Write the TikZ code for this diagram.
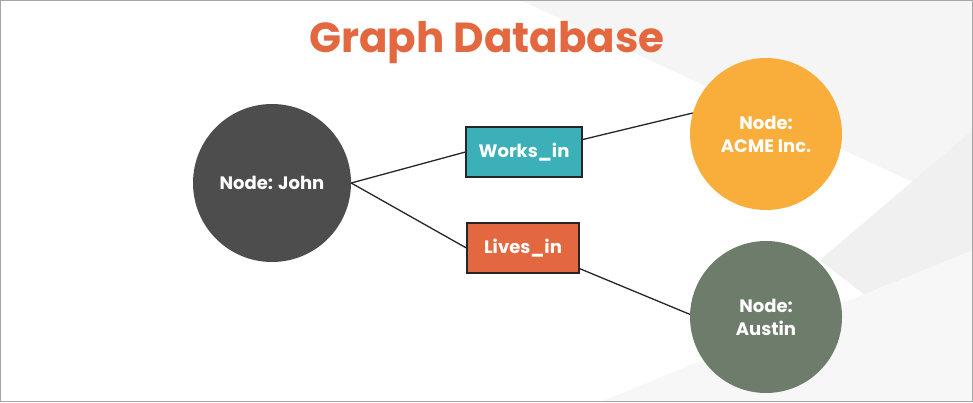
\documentclass[tikz,border=0pt]{standalone}
\usepackage{fontspec}
\setmainfont{Poppins}
\usepackage{tikz}
\definecolor{titleorange}{HTML}{E4683F}
\definecolor{johngray}{HTML}{4D4D4D}
\definecolor{acmeyellow}{HTML}{F9AE3C}
\definecolor{austingreen}{HTML}{6E7C6C}
\definecolor{worksteal}{HTML}{3BB0B8}
\tikzset{
  entity/.style={circle, minimum size=152pt, align=center, text=white, font=\bfseries\fontsize{18}{23}\selectfont},
  relation/.style={draw=black!85, line width=1.2pt, minimum height=50pt, text=white, font=\bfseries\fontsize{18}{21}\selectfont},
  link/.style={draw=black!85, line width=1.3pt}
}
\begin{document}
\begin{tikzpicture}[x=1pt, y=-1pt]

% background and frame
\fill[white] (0,0) rectangle (973,402);
\fill[black!4] (520,0) -- (973,0) -- (973,210) -- cycle;
\fill[black!6] (973,130) -- (820,260) -- (973,380) -- cycle;
\fill[black!3] (600,402) -- (973,250) -- (973,402) -- cycle;
\draw[black!35, line width=1pt] (0.5,0.5) rectangle (972.5,401.5);

% title
\node[text=titleorange, font=\bfseries\fontsize{42}{48}\selectfont] (title) at (487,43) {Graph Database};

% nodes
\node[entity, fill=johngray, minimum size=158pt] (john) at (272,183) {Node: John};
\node[entity, fill=acmeyellow] (acme) at (766,134) {Node:\\ACME Inc.};
\node[entity, fill=austingreen] (austin) at (766,317) {Node:\\Austin};

% relations
\node[relation, fill=worksteal, minimum width=116pt] (works) at (524,152) {Works\_in};
\node[relation, fill=titleorange, minimum width=112pt] (lives) at (523,248) {Lives\_in};

% edges
\draw[link] (john.east) -- (works.west);
\draw[link] (works.12) -- (acme.164);
\draw[link] (john.east) -- (lives.west);
\draw[link] (lives.-20) -- (austin.178);

\end{tikzpicture}
\end{document}
